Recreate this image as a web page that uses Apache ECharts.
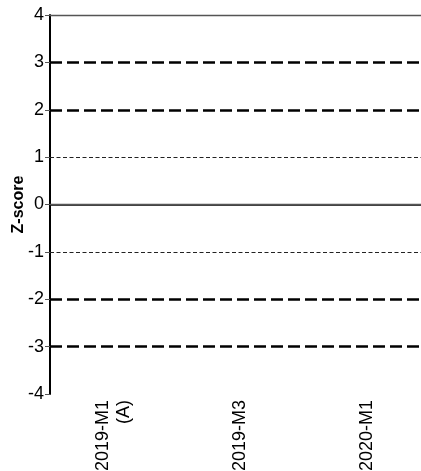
<!DOCTYPE html>
<html><head><meta charset="utf-8">
<script src="https://cdn.jsdelivr.net/npm/echarts@6/dist/echarts.min.js"></script>
<style>html,body{margin:0;padding:0;background:#fff;overflow:hidden;}#c{width:421px;height:471px;}</style>
</head><body><div id="c"></div>
<script>
const categories = ["2019-M1\n(A)", "2019-M3", "2020-M1"];
const yTicks = [-4, -3, -2, -1, 0, 1, 2, 3, 4];
const thickLines = [3, 2, -2, -3];
const thinLines = [1, -1];
const solidLines = [4, 0];
const values = [null, null, null];

const chart = echarts.init(document.getElementById('c'), null, {renderer: 'canvas'});
const font = 'Liberation Sans, Arial, sans-serif';
const markData = [];
thickLines.forEach(v => markData.push({yAxis: v, lineStyle: {color: '#000', width: 2.5, type: [12, 5]}}));
thinLines.forEach(v => markData.push({yAxis: v, lineStyle: {color: '#222', width: 1, type: [4, 2.5]}}));
solidLines.forEach(v => markData.push({yAxis: v, lineStyle: {color: '#555', width: 1.4, type: 'solid'}}));

chart.setOption({
  animation: false,
  grid: {left: 50, top: 15, width: 380, height: 379, containLabel: false, outerBoundsMode: 'none'},
  xAxis: {
    type: 'category', data: categories, boundaryGap: true,
    axisLine: {lineStyle: {color: '#000', width: 1.5}},
    axisTick: {alignWithLabel: true, length: 4, lineStyle: {color: '#777'}},
    axisLabel: {rotate: 90, color: '#000', fontFamily: font, fontSize: 18, margin: 6, lineHeight: 21, interval: 0}
  },
  yAxis: {
    type: 'value', min: yTicks[0], max: yTicks[yTicks.length-1], interval: 1,
    name: 'Z-score', nameLocation: 'middle', nameGap: 23, nameMoveOverlap: false,
    nameTextStyle: {fontFamily: font, fontSize: 16, fontWeight: 'bold', color: '#000'},
    axisLine: {show: true, lineStyle: {color: '#000', width: 2}},
    axisTick: {show: true, length: 5, lineStyle: {color: '#555'}},
    axisLabel: {color: '#000', fontFamily: font, fontSize: 18, margin: 6},
    splitLine: {show: false}
  },
  series: [{
    type: 'line', data: values, symbol: 'none',
    markLine: {silent: true, symbol: 'none', label: {show: false}, data: markData}
  }]
});
</script></body></html>
